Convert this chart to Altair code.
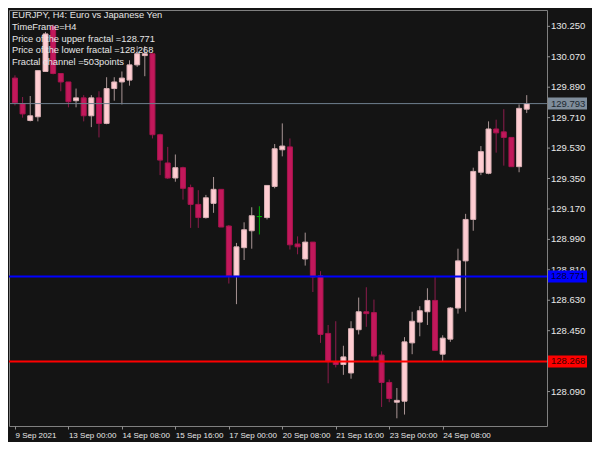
import altair as alt
import pandas as pd

# ---- data (EURJPY H4) ----
opens = [129.944, 129.793, 129.693, 129.715, 129.983, 130.250, 129.971, 129.921, 129.810, 129.827,
         129.721, 129.827, 129.676, 129.882, 129.921, 129.932, 130.022, 130.077, 130.088, 129.609,
         129.442, 129.353, 129.414, 129.297, 129.197, 129.119, 129.203, 129.286, 129.069, 128.774,
         128.941, 129.041, 129.125, 129.119, 129.303, 129.520, 129.537, 128.963, 128.874, 128.974,
         128.774, 128.434, 128.267, 128.250, 128.200, 128.456, 128.562, 128.557, 128.306, 128.144,
         128.027, 128.033, 128.378, 128.501, 128.562, 128.629, 128.311, 128.400, 128.584, 128.863,
         129.108, 129.387, 129.381, 129.643, 129.626, 129.593, 129.420, 129.760]
highs = [129.960, 129.832, 129.838, 129.988, 130.217, 130.261, 129.971, 129.921, 129.882, 129.843,
         129.843, 129.866, 129.949, 129.949, 129.983, 130.049, 130.133, 130.133, 130.088, 129.615,
         129.537, 129.492, 129.420, 129.314, 129.281, 129.253, 129.359, 129.286, 129.075, 128.969,
         129.091, 129.180, 129.186, 129.309, 129.554, 129.676, 129.587, 129.008, 129.030, 128.974,
         128.802, 128.484, 128.506, 128.361, 128.506, 128.646, 128.707, 128.634, 128.328, 128.161,
         128.111, 128.412, 128.562, 128.595, 128.701, 128.771, 128.423, 128.590, 128.935, 129.141,
         129.414, 129.542, 129.688, 129.698, 129.760, 129.593, 129.788, 129.843]
lows = [129.782, 129.710, 129.688, 129.688, 129.983, 129.966, 129.866, 129.771, 129.771, 129.688,
        129.654, 129.593, 129.671, 129.810, 129.788, 129.899, 130.010, 129.955, 129.587, 129.370,
        129.347, 129.331, 129.225, 129.058, 129.058, 129.113, 129.147, 129.063, 128.729, 128.607,
        128.868, 128.935, 129.019, 129.108, 129.292, 129.481, 128.930, 128.902, 128.835, 128.679,
        128.378, 128.139, 128.233, 128.189, 128.166, 128.428, 128.473, 128.267, 127.999, 128.027,
        127.932, 127.954, 128.311, 128.417, 128.484, 128.334, 128.268, 128.384, 128.551, 128.562,
        129.041, 129.370, 129.375, 129.503, 129.426, 129.420, 129.387, 129.737]
closes = [129.799, 129.732, 129.721, 129.988, 130.205, 129.971, 129.921, 129.804, 129.827, 129.721,
          129.827, 129.676, 129.882, 129.921, 129.944, 130.022, 130.088, 130.088, 129.609, 129.459,
          129.353, 129.414, 129.292, 129.197, 129.119, 129.236, 129.286, 129.063, 128.774, 128.946,
          129.047, 129.130, 129.125, 129.309, 129.526, 129.542, 128.958, 128.946, 128.974, 128.768,
          128.428, 128.267, 128.250, 128.295, 128.462, 128.562, 128.551, 128.300, 128.144, 128.049,
          128.038, 128.384, 128.506, 128.568, 128.629, 128.334, 128.406, 128.584, 128.863, 129.108,
          129.392, 129.509, 129.643, 129.620, 129.593, 129.420, 129.765, 129.793]

x_label_bars = [0, 7, 14, 21, 28, 35, 42, 49, 56]
x_labels = ["9 Sep 2021", "13 Sep 00:00", "14 Sep 08:00", "15 Sep 16:00", "17 Sep 00:00",
            "20 Sep 08:00", "21 Sep 16:00", "23 Sep 00:00", "24 Sep 08:00"]
y_ticks = [130.25, 130.07, 129.89, 129.71, 129.53, 129.35, 129.17, 128.99, 128.81,
           128.63, 128.45, 128.27, 128.09]

current_price = 129.793
upper_fractal = 128.771
lower_fractal = 128.268

info_lines = ["EURJPY, H4:  Euro vs Japanese Yen",
              "TimeFrame=H4",
              "Price of the upper fractal =128.771",
              "Price of the lower fractal =128.268",
              "Fractal channel =503points"]

# ---- build table ----
def direction(o, c):
    if c > o:
        return "up"
    if c < o:
        return "down"
    return "doji"

df = pd.DataFrame({
    "bar": list(range(len(opens))),
    "open": opens, "high": highs, "low": lows, "close": closes,
})
df["dir"] = [direction(o, c) for o, c in zip(opens, closes)]

W, H = 538, 416
BG = "#141414"
FONT = "Liberation Sans"
TXT = "#e8e8e8"

label_expr = ("[" + ",".join("'%s'" % s for s in x_labels) + "][indexof("
              + str(x_label_bars) + ", datum.value)]")

x_enc = alt.X("bar:Q",
              scale=alt.Scale(domain=[-0.125, 69], nice=False, zero=False),
              axis=alt.Axis(values=x_label_bars, labelExpr=label_expr, labelAlign="left",
                            labelColor=TXT, labelFont=FONT, labelFontSize=8,
                            labelPadding=2, labelOverlap=False, labelFlush=False,
                            labelBound=False, tickColor="#909090", tickSize=3,
                            domain=False, grid=False, title=None))
y_scale = alt.Scale(domain=[127.916, 130.317], nice=False, zero=False)


def Y(field):
    return alt.Y(field, scale=y_scale, axis=None)


base = alt.Chart(df)

wicks = base.mark_rule(strokeWidth=1).encode(
    x=x_enc,
    y=Y("low:Q"),
    y2="high:Q",
    color=alt.Color("dir:N", legend=None,
                    scale=alt.Scale(domain=["up", "down", "doji"],
                                    range=["#a89494", "#8c1c4c", "#00b000"])),
)

bodies = base.mark_bar(size=5, strokeWidth=1).encode(
    x="bar:Q",
    y=Y("open:Q"),
    y2="close:Q",
    fill=alt.Fill("dir:N", legend=None,
                  scale=alt.Scale(domain=["up", "down", "doji"],
                                  range=["#ffcdd2", "#c2185b", "#00b000"])),
    stroke=alt.Stroke("dir:N", legend=None,
                      scale=alt.Scale(domain=["up", "down", "doji"],
                                      range=["#d8b0b4", "#a8144e", "#00b000"])),
)

layers = [wicks, bodies]

# price scale on the right (labels + small ticks)
tick_df = pd.DataFrame({"tick": y_ticks})
tc = alt.Chart(tick_df)
layers.append(tc.mark_rule(color="#909090", strokeWidth=1).encode(
    y=Y("tick:Q"), x=alt.value(W), x2=alt.value(W + 3)))
layers.append(tc.mark_text(align="left", baseline="middle", color=TXT,
                           font=FONT, fontSize=9.5).encode(
    y=Y("tick:Q"), x=alt.value(W + 4), text=alt.Text("tick:Q", format=".3f")))

levels = [
    (current_price, "#6f7f8f", 1, "#7f8d9b", "#202830"),
    (upper_fractal, "#0000ff", 2, "#0000ff", "#00003a"),
    (lower_fractal, "#ff0000", 2, "#ff0000", "#3a0000"),
]
for price, line_col, lw, box_col, txt_col in levels:
    ldf = pd.DataFrame({"price": [price]})
    lc = alt.Chart(ldf)
    layers.append(lc.mark_rule(color=line_col, strokeWidth=lw).encode(y=Y("price:Q")))
    layers.append(lc.mark_bar(height=12, color=box_col).encode(
        x=alt.value(W + 1), x2=alt.value(W + 40), y=Y("price:Q")))
    layers.append(lc.mark_text(align="left", baseline="middle", color=txt_col,
                               font=FONT, fontSize=9.5).encode(
        x=alt.value(W + 4), y=Y("price:Q"), text=alt.Text("price:Q", format=".3f")))

info = alt.Chart(pd.DataFrame({"t": ["\n".join(info_lines)]})).mark_text(
    align="left", baseline="top", lineBreak="\n", lineHeight=11.8,
    color="#e6e6e6", font=FONT, fontSize=9.3
).encode(x=alt.value(3), y=alt.value(1), text="t:N")
layers.append(info)

chart = alt.layer(*layers).properties(
    width=W, height=H,
    autosize=alt.AutoSizeParams(type="none"),
    padding={"left": 1, "top": 2, "right": 45, "bottom": 16},
    background=BG,
).configure_view(stroke="#808080", strokeWidth=1)

chart.save("out.html", embed_options={"renderer": "svg", "actions": False})
